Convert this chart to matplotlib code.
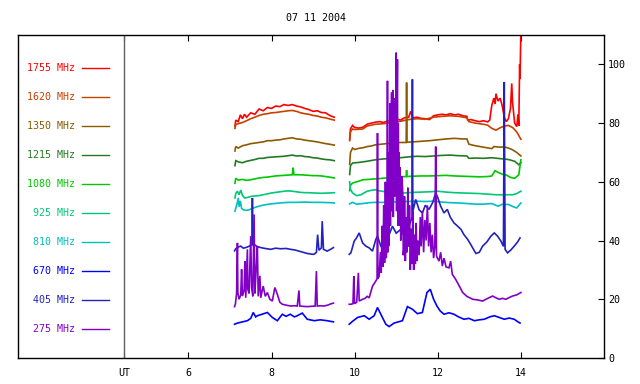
import numpy as np
import matplotlib
matplotlib.use('Agg')
import matplotlib.pyplot as plt

plt.rcParams['font.family'] = 'DejaVu Sans Mono'
plt.rcParams['font.size'] = 7.2

title = '07 11 2004'
freqs = ['1755 MHz', '1620 MHz', '1350 MHz', '1215 MHz', '1080 MHz',
         '925 MHz', '810 MHz', '670 MHz', '405 MHz', '275 MHz']
colors = ['#ff0000', '#c84000', '#8b5a00', '#247a24', '#00c800',
          '#00c878', '#00c0c0', '#0000ff', '#2222c0', '#8000c8']
xtick_vals = [6, 8, 10, 12, 14]
ytick_vals = [0, 20, 40, 60, 80, 100]

#--- 1755 MHz ---
f1755_a = [(7.12, 79.0), (7.14, 81.0), (7.2, 80.5), (7.25, 82.8), (7.3, 81.5), (7.35, 83.0), (7.4, 82.0),
           (7.5, 83.5), (7.6, 83.0), (7.7, 84.8), (7.8, 84.2), (7.9, 85.3), (8.0, 85.0), (8.1, 85.8),
           (8.2, 85.6), (8.3, 86.3), (8.4, 86.0), (8.5, 86.3), (8.6, 85.8), (8.7, 85.5), (8.8, 85.0),
           (8.9, 84.6), (9.0, 84.0), (9.1, 84.2), (9.2, 83.6), (9.3, 83.5), (9.4, 82.6), (9.51, 82.0)]
f1755_b = [(9.88, 74.5), (9.9, 78.0), (9.95, 79.2), (10.0, 78.5), (10.1, 78.3), (10.2, 78.6), (10.3, 79.6),
           (10.4, 80.0), (10.5, 80.3), (10.6, 80.5), (10.7, 80.2), (10.8, 80.8), (10.9, 81.0), (11.0, 81.5),
           (11.1, 81.0), (11.2, 81.8), (11.3, 82.0), (11.35, 84.0), (11.4, 81.8), (11.5, 82.0), (11.6, 81.6),
           (11.7, 81.5), (11.8, 81.2), (11.9, 82.5), (12.0, 82.8), (12.1, 83.0), (12.2, 82.8), (12.3, 83.2),
           (12.4, 82.8), (12.5, 83.0), (12.6, 82.5), (12.7, 82.3), (12.72, 81.0), (12.8, 81.2), (12.9, 80.8),
           (13.0, 80.5), (13.1, 80.8), (13.2, 80.4), (13.25, 81.0), (13.3, 86.0), (13.35, 88.5), (13.38, 86.5),
           (13.4, 90.0), (13.45, 87.5), (13.5, 88.5), (13.55, 86.0), (13.6, 82.0), (13.65, 80.5), (13.7, 81.5),
           (13.75, 85.0), (13.78, 93.5), (13.8, 87.0), (13.85, 80.0), (13.9, 78.8), (13.93, 83.0), (13.95, 79.0),
           (13.97, 100.0), (13.98, 95.0), (14.0, 112.0)]
#--- 1620 MHz ---
f1620_a = [(7.12, 78.2), (7.14, 79.5), (7.2, 79.8), (7.3, 80.2), (7.4, 80.8), (7.5, 81.5), (7.6, 82.0),
           (7.7, 82.6), (7.8, 83.0), (7.9, 83.2), (8.0, 83.5), (8.1, 83.6), (8.2, 83.8), (8.3, 84.0),
           (8.4, 84.2), (8.5, 84.3), (8.6, 84.0), (8.7, 83.5), (8.8, 83.2), (8.9, 83.0), (9.0, 82.6),
           (9.1, 82.4), (9.2, 82.0), (9.3, 81.8), (9.4, 81.4), (9.51, 81.0)]
f1620_b = [(9.88, 74.0), (9.9, 77.0), (9.95, 78.0), (10.0, 77.8), (10.2, 78.0), (10.3, 79.0), (10.5, 79.6),
           (10.7, 79.8), (10.9, 80.3), (11.1, 80.6), (11.3, 81.2), (11.5, 81.5), (11.7, 81.3), (11.9, 82.0),
           (12.1, 82.3), (12.3, 82.5), (12.5, 82.3), (12.7, 81.8), (12.75, 80.5), (12.9, 80.0), (13.1, 79.6),
           (13.2, 79.3), (13.3, 78.2), (13.4, 77.6), (13.5, 78.4), (13.6, 79.0), (13.7, 79.2), (13.8, 78.5),
           (13.9, 77.0), (14.0, 74.5)]
#--- 1350 MHz ---
f1350_a = [(7.12, 70.5), (7.14, 72.0), (7.2, 71.5), (7.3, 72.3), (7.4, 72.6), (7.5, 73.0), (7.6, 73.2),
           (7.7, 73.4), (7.8, 73.6), (7.9, 74.0), (8.0, 74.0), (8.1, 74.2), (8.2, 74.3), (8.3, 74.6),
           (8.4, 74.8), (8.5, 75.0), (8.6, 74.6), (8.7, 74.5), (8.8, 74.2), (8.9, 74.0), (9.0, 73.8),
           (9.1, 73.6), (9.2, 73.3), (9.3, 73.0), (9.4, 72.8), (9.51, 72.5)]
f1350_b = [(9.88, 66.0), (9.9, 70.0), (9.95, 71.5), (10.0, 71.0), (10.1, 71.4), (10.2, 71.6), (10.3, 72.0),
           (10.4, 72.2), (10.5, 72.6), (10.7, 72.9), (10.9, 73.2), (11.1, 73.4), (11.24, 73.4), (11.25, 93.8),
           (11.26, 73.5), (11.4, 73.6), (11.6, 73.8), (11.8, 74.0), (12.0, 74.3), (12.2, 74.6), (12.4, 74.8),
           (12.6, 74.6), (12.7, 74.6), (12.75, 72.8), (12.9, 72.3), (13.1, 71.8), (13.3, 71.3), (13.35, 72.0),
           (13.5, 71.8), (13.6, 71.9), (13.7, 71.5), (13.8, 70.9), (13.9, 70.0), (14.0, 68.8)]
#--- 1215 MHz ---
f1215_a = [(7.12, 65.5), (7.14, 67.2), (7.2, 66.8), (7.3, 66.5), (7.4, 67.0), (7.5, 67.3), (7.6, 67.6),
           (7.7, 68.0), (7.8, 68.0), (7.9, 68.3), (8.0, 68.4), (8.1, 68.5), (8.2, 68.6), (8.3, 68.7),
           (8.4, 68.9), (8.5, 69.1), (8.6, 68.8), (8.7, 68.9), (8.8, 68.6), (8.9, 68.5), (9.0, 68.2),
           (9.1, 68.1), (9.2, 67.8), (9.3, 67.6), (9.4, 67.5), (9.51, 67.2)]
f1215_b = [(9.88, 62.5), (9.9, 65.5), (9.95, 66.4), (10.1, 66.6), (10.3, 67.0), (10.5, 67.5), (10.7, 67.8),
           (10.9, 68.0), (11.1, 68.2), (11.3, 68.5), (11.5, 68.7), (11.7, 68.6), (11.9, 68.8), (12.1, 69.0),
           (12.3, 69.1), (12.5, 68.9), (12.7, 68.8), (12.75, 68.0), (12.9, 68.1), (13.1, 68.0), (13.3, 68.2),
           (13.5, 67.9), (13.7, 67.6), (13.85, 67.0), (13.95, 65.8), (14.0, 66.5)]
#--- 1080 MHz ---
f1080_a = [(7.12, 59.5), (7.14, 61.2), (7.2, 60.6), (7.3, 60.8), (7.4, 60.5), (7.5, 60.7), (7.6, 61.0),
           (7.7, 61.3), (7.8, 61.5), (7.9, 61.6), (8.0, 61.8), (8.1, 62.0), (8.2, 62.1), (8.3, 62.2),
           (8.4, 62.3), (8.5, 62.4), (8.52, 64.8), (8.54, 62.4), (8.6, 62.4), (8.7, 62.4), (8.8, 62.3),
           (8.9, 62.2), (9.0, 62.1), (9.1, 62.1), (9.2, 62.0), (9.3, 61.8), (9.4, 61.6), (9.51, 61.3)]
f1080_b = [(9.88, 57.0), (9.9, 58.8), (9.95, 59.6), (10.1, 60.2), (10.2, 60.7), (10.4, 60.9), (10.6, 61.1),
           (10.8, 61.4), (11.0, 61.6), (11.24, 61.8), (11.25, 64.0), (11.26, 61.8), (11.4, 61.9), (11.6, 62.0),
           (11.8, 62.0), (12.0, 62.1), (12.2, 62.2), (12.4, 62.0), (12.6, 61.9), (12.8, 61.8), (13.0, 61.7),
           (13.2, 61.8), (13.3, 62.0), (13.38, 63.8), (13.45, 63.2), (13.55, 62.6), (13.65, 62.3),
           (13.75, 61.5), (13.85, 61.2), (13.95, 62.4), (14.0, 67.5)]
#--- 925 MHz ---
f925_a = [(7.12, 54.5), (7.14, 56.0), (7.18, 56.8), (7.22, 55.6), (7.26, 57.2), (7.3, 55.4), (7.35, 54.5),
          (7.4, 54.6), (7.5, 55.0), (7.6, 55.2), (7.7, 55.3), (7.8, 55.6), (7.9, 55.9), (8.0, 56.2),
          (8.1, 56.4), (8.2, 56.6), (8.3, 56.8), (8.4, 56.9), (8.5, 56.8), (8.6, 56.6), (8.7, 56.4),
          (8.8, 56.3), (8.9, 56.3), (9.0, 56.2), (9.2, 56.1), (9.4, 56.2), (9.51, 56.3)]
f925_b = [(9.88, 60.0), (9.9, 57.5), (9.95, 56.2), (10.05, 55.3), (10.15, 55.6), (10.3, 56.8), (10.4, 57.1),
          (10.5, 57.3), (10.6, 56.9), (10.8, 56.5), (11.0, 56.3), (11.2, 56.2), (11.4, 56.4), (11.6, 56.5),
          (11.8, 56.6), (12.0, 56.8), (12.2, 56.5), (12.4, 56.3), (12.6, 56.2), (12.8, 56.1), (13.0, 56.0),
          (13.2, 55.8), (13.4, 55.6), (13.6, 55.6), (13.8, 55.6), (13.9, 56.0), (14.0, 56.8)]
#--- 810 MHz ---
f810_a = [(7.12, 50.0), (7.14, 51.0), (7.17, 52.5), (7.2, 54.5), (7.22, 51.5), (7.25, 53.5), (7.28, 51.0),
          (7.32, 50.5), (7.38, 50.3), (7.45, 50.4), (7.55, 51.0), (7.65, 51.5), (7.75, 51.9), (7.85, 52.2),
          (8.0, 52.5), (8.2, 52.8), (8.4, 53.0), (8.6, 53.0), (8.8, 53.1), (9.0, 53.0), (9.2, 53.0),
          (9.4, 52.9), (9.51, 52.8)]
f810_b = [(9.88, 52.5), (9.95, 53.0), (10.05, 52.4), (10.2, 52.6), (10.35, 52.9), (10.5, 53.0), (10.7, 53.0),
          (10.9, 53.1), (11.1, 53.3), (11.3, 53.3), (11.5, 53.4), (11.7, 53.3), (11.9, 53.4), (12.1, 53.1),
          (12.3, 52.9), (12.5, 52.8), (12.7, 52.6), (12.9, 52.4), (13.1, 52.4), (13.3, 52.6), (13.45, 51.7),
          (13.55, 52.3), (13.7, 52.3), (13.8, 51.6), (13.9, 51.1), (14.0, 52.8)]
#--- 670 MHz ---
f670_a = [(7.11, 11.5), (7.18, 11.9), (7.3, 12.3), (7.42, 12.7), (7.5, 13.5), (7.56, 15.5), (7.62, 14.0),
          (7.66, 14.4), (7.75, 14.8), (7.9, 15.5), (8.02, 13.8), (8.14, 12.7), (8.2, 13.8), (8.26, 14.9),
          (8.35, 14.2), (8.45, 14.9), (8.55, 14.0), (8.62, 14.4), (8.74, 15.3), (8.86, 13.2), (9.03, 12.7),
          (9.17, 13.0), (9.34, 12.7), (9.49, 12.3)]
f670_b = [(9.87, 11.5), (9.95, 12.5), (10.07, 13.8), (10.23, 14.4), (10.35, 13.2), (10.47, 14.4), (10.55, 17.2),
          (10.63, 14.9), (10.75, 11.5), (10.83, 10.7), (10.95, 11.9), (11.15, 12.7), (11.27, 17.5),
          (11.39, 16.6), (11.51, 15.1), (11.63, 15.5), (11.74, 22.3), (11.82, 23.4), (11.9, 20.0),
          (11.98, 17.7), (12.06, 16.0), (12.15, 14.9), (12.27, 15.4), (12.39, 14.9), (12.5, 14.0),
          (12.63, 13.2), (12.75, 13.5), (12.88, 12.7), (13.0, 13.0), (13.12, 13.2), (13.25, 14.0),
          (13.36, 14.4), (13.48, 13.8), (13.6, 13.2), (13.72, 13.6), (13.84, 13.2), (13.92, 12.4), (13.98, 11.9)]
#--- 405 MHz ---
f405_a = [(7.11, 36.5), (7.14, 37.2), (7.2, 37.8), (7.26, 38.1), (7.32, 37.4), (7.38, 37.6), (7.45, 38.0),
          (7.53, 38.5), (7.54, 54.5), (7.55, 38.7), (7.58, 38.7), (7.65, 38.0), (7.74, 37.6), (7.85, 37.3),
          (7.98, 37.0), (8.1, 37.4), (8.22, 37.2), (8.35, 37.3), (8.46, 37.0), (8.56, 36.8), (8.66, 36.4),
          (8.76, 36.0), (8.86, 35.6), (8.95, 35.4), (9.02, 35.3), (9.08, 36.0), (9.11, 42.0), (9.14, 36.7),
          (9.2, 37.5), (9.22, 46.6), (9.25, 37.0), (9.34, 36.4), (9.42, 37.0), (9.49, 37.6)]
f405_b = [(9.87, 35.3), (9.91, 35.8), (9.99, 39.8), (10.05, 41.0), (10.11, 42.6), (10.19, 39.2), (10.27, 38.1),
          (10.35, 37.5), (10.43, 36.4), (10.51, 40.4), (10.55, 41.5), (10.63, 38.1), (10.75, 39.2),
          (10.83, 42.0), (10.91, 44.9), (11.0, 42.5), (11.11, 43.8), (11.2, 46.0), (11.31, 44.9), (11.38, 48.0),
          (11.39, 94.9), (11.4, 50.0), (11.47, 54.0), (11.55, 50.5), (11.63, 49.4), (11.7, 52.0), (11.79, 50.6),
          (11.88, 53.0), (11.95, 56.2), (11.99, 55.0), (12.07, 51.7), (12.15, 49.4), (12.23, 50.6), (12.3, 48.0),
          (12.39, 46.0), (12.47, 45.0), (12.56, 43.8), (12.63, 42.0), (12.72, 40.4), (12.8, 38.5), (12.88, 36.5),
          (12.92, 35.6), (13.0, 36.0), (13.08, 38.1), (13.18, 39.5), (13.28, 41.5), (13.36, 42.6), (13.44, 41.5),
          (13.52, 39.8), (13.58, 38.0), (13.6, 94.0), (13.62, 37.0), (13.68, 35.8), (13.76, 36.8), (13.84, 38.1),
          (13.92, 39.5), (13.98, 40.9)]
#--- 275 MHz ---
f275_a = [(7.11, 17.5), (7.13, 18.3), (7.16, 22.0), (7.18, 39.2), (7.19, 22.3), (7.22, 20.0), (7.26, 21.5),
          (7.28, 30.2), (7.3, 21.1), (7.34, 23.0), (7.36, 33.0), (7.38, 20.5), (7.42, 37.0), (7.43, 23.4),
          (7.46, 22.0), (7.5, 41.5), (7.52, 24.0), (7.55, 21.0), (7.58, 48.9), (7.6, 22.0), (7.63, 30.0),
          (7.66, 38.1), (7.68, 21.0), (7.72, 28.0), (7.74, 20.5), (7.8, 24.5), (7.85, 21.0), (7.9, 22.3),
          (7.96, 20.0), (8.02, 19.4), (8.08, 24.0), (8.14, 21.7), (8.2, 19.0), (8.26, 18.3), (8.35, 18.0),
          (8.46, 17.7), (8.55, 17.8), (8.62, 17.7), (8.66, 23.0), (8.68, 17.7), (8.75, 17.6), (8.86, 17.5),
          (8.96, 17.6), (9.05, 17.7), (9.08, 29.6), (9.1, 17.7), (9.18, 17.8), (9.26, 17.7), (9.35, 18.0),
          (9.42, 18.4), (9.49, 18.7)]
f275_b = [(9.87, 18.3), (9.91, 18.3), (9.96, 18.5), (9.98, 27.9), (10.0, 18.5), (10.05, 19.0), (10.09, 29.0),
          (10.11, 19.4), (10.19, 20.0), (10.25, 20.3), (10.3, 21.0), (10.35, 20.5), (10.43, 24.5), (10.5, 26.0),
          (10.54, 27.0), (10.55, 76.6), (10.56, 27.0), (10.59, 27.9), (10.62, 36.0), (10.64, 29.0), (10.66, 45.0),
          (10.68, 31.0), (10.7, 52.0), (10.72, 32.4), (10.74, 60.0), (10.76, 34.0), (10.78, 40.0), (10.79, 94.4),
          (10.8, 36.0), (10.81, 60.0), (10.82, 70.0), (10.83, 38.1), (10.84, 62.0), (10.85, 86.7), (10.86, 45.0),
          (10.87, 68.0), (10.88, 75.0), (10.89, 90.4), (10.9, 50.0), (10.91, 63.0), (10.92, 91.3), (10.93, 48.0),
          (10.94, 72.0), (10.95, 88.4), (10.96, 55.0), (10.97, 78.0), (10.98, 80.0), (10.99, 58.0), (11.0, 104.0),
          (11.01, 50.0), (11.02, 85.0), (11.03, 101.7), (11.04, 45.0), (11.05, 80.0), (11.06, 52.0), (11.07, 70.0),
          (11.08, 45.0), (11.09, 65.0), (11.1, 60.0), (11.11, 40.0), (11.12, 58.0), (11.13, 42.0), (11.14, 62.0),
          (11.16, 55.0), (11.17, 35.0), (11.19, 38.1), (11.2, 55.0), (11.22, 33.0), (11.24, 48.0), (11.26, 36.0),
          (11.28, 58.0), (11.3, 38.0), (11.32, 52.0), (11.34, 30.0), (11.36, 44.0), (11.38, 32.0), (11.4, 50.0),
          (11.42, 30.0), (11.44, 42.0), (11.46, 32.0), (11.48, 46.0), (11.5, 33.0), (11.52, 40.0), (11.55, 35.0),
          (11.58, 48.0), (11.6, 38.0), (11.63, 50.0), (11.66, 36.0), (11.69, 47.0), (11.72, 40.0), (11.75, 52.0),
          (11.78, 38.0), (11.81, 46.0), (11.84, 36.0), (11.87, 42.0), (11.9, 34.0), (11.93, 38.0), (11.95, 72.0),
          (11.97, 34.7), (12.03, 33.0), (12.07, 36.0), (12.11, 31.3), (12.15, 34.0), (12.2, 31.0), (12.27, 30.7),
          (12.31, 33.0), (12.35, 28.5), (12.43, 26.8), (12.5, 25.0), (12.6, 22.3), (12.7, 21.0), (12.84, 20.0),
          (12.95, 19.8), (13.08, 19.4), (13.2, 20.3), (13.32, 21.1), (13.4, 20.5), (13.48, 20.0), (13.56, 20.3),
          (13.64, 20.0), (13.72, 20.6), (13.8, 21.1), (13.9, 21.5), (14.0, 22.3)]

segments = [(f1755_a, f1755_b), (f1620_a, f1620_b), (f1350_a, f1350_b), (f1215_a, f1215_b),
            (f1080_a, f1080_b), (f925_a, f925_b), (f810_a, f810_b), (f670_a, f670_b),
            (f405_a, f405_b), (f275_a, f275_b)]

fig = plt.figure(figsize=(6.4, 3.84), dpi=100)
ax = fig.add_axes([18/640, 26/384, 586/640, 323/384])

for k in range(len(freqs)):
    for seg in segments[k]:
        t, v = zip(*seg)
        ax.plot(t, v, color=colors[k], lw=1.2, solid_joinstyle='miter')

# legend block at the left
leg_y = np.linspace(98.7, 9.8, len(freqs))
for k in range(len(freqs)):
    ax.text(3.28, leg_y[k], freqs[k], color=colors[k], ha='right', va='center')
    ax.plot([3.43, 4.10], [leg_y[k], leg_y[k]], color=colors[k], lw=1)

ax.axvline(4.45, color='#606060', lw=1)

ax.set_xlim(1.9, 16)
ax.set_ylim(0, 110)
ax.set_xticks([4.45] + xtick_vals)
ax.set_xticklabels(['UT'] + [str(x) for x in xtick_vals])
ax.yaxis.tick_right()
ax.set_yticks(ytick_vals)
ax.tick_params(axis='x', direction='in', top=True, length=4, pad=7)
ax.tick_params(axis='y', direction='in', right=True, left=False, length=4, pad=3)
for s in ax.spines.values():
    s.set_linewidth(1)

fig.text(316/640, 1 - 18/384, title, ha='center', va='center')
fig.savefig('out.png', dpi=100)
